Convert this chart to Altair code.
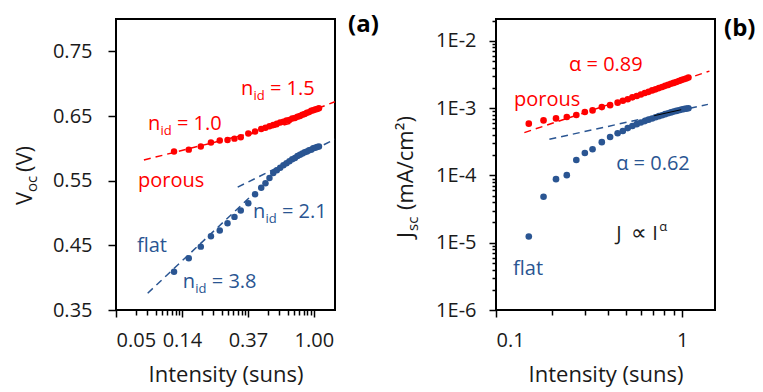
import math
import pandas as pd
import altair as alt

FONT = "Open Sans"
RED = "#FF0000"
BLUE = "#2A5592"
INK = "#1A1A1A"

# ---------------- data ----------------
# illumination intensities (suns)
intensity = [0.12, 0.15, 0.18, 0.21, 0.24, 0.27, 0.30, 0.33, 0.37, 0.41, 0.45,
             0.48, 0.51, 0.54, 0.57, 0.60, 0.63, 0.66, 0.69, 0.72, 0.75, 0.78,
             0.81, 0.84, 0.87, 0.90, 0.93, 0.96, 0.99, 1.02, 1.05, 1.08]

# open-circuit voltage (V)
voc_porous = [0.595, 0.598, 0.603, 0.609, 0.612, 0.613, 0.615, 0.617, 0.623, 0.626, 0.630,
              0.632, 0.634, 0.636, 0.638, 0.640, 0.641, 0.643, 0.644, 0.646, 0.647, 0.649,
              0.650, 0.652, 0.653, 0.655, 0.656, 0.658, 0.659, 0.660, 0.661, 0.662]
voc_flat = [0.409, 0.430, 0.448, 0.464, 0.473, 0.484, 0.494, 0.504, 0.515, 0.529, 0.539,
            0.546, 0.554, 0.562, 0.566, 0.570, 0.574, 0.577, 0.580, 0.583, 0.585, 0.588,
            0.590, 0.592, 0.594, 0.595, 0.597, 0.598, 0.600, 0.601, 0.602, 0.603]

# short-circuit current density (mA/cm2), measured from 0.15 suns upward
intensity_jsc = intensity[1:]
jsc_porous = [5.89e-4, 6.59e-4, 7.06e-4, 7.41e-4, 7.93e-4, 8.79e-4, 9.28e-4, 1.04e-3,
              1.11e-3, 1.21e-3, 1.29e-3, 1.36e-3, 1.45e-3, 1.52e-3, 1.60e-3, 1.68e-3,
              1.75e-3, 1.84e-3, 1.91e-3, 1.99e-3, 2.07e-3, 2.15e-3, 2.22e-3, 2.31e-3,
              2.38e-3, 2.45e-3, 2.54e-3, 2.62e-3, 2.69e-3, 2.76e-3, 2.85e-3]
jsc_flat = [1.24e-5, 4.83e-5, 8.81e-5, 1.01e-4, 1.70e-4, 2.16e-4, 2.45e-4, 3.13e-4,
            3.74e-4, 4.24e-4, 4.59e-4, 5.06e-4, 5.45e-4, 5.79e-4, 6.12e-4, 6.44e-4,
            6.76e-4, 7.04e-4, 7.33e-4, 7.61e-4, 7.87e-4, 8.15e-4, 8.40e-4, 8.66e-4,
            8.91e-4, 9.12e-4, 9.34e-4, 9.53e-4, 9.70e-4, 9.84e-4, 9.97e-4]

# fitted ideality / power-law lines: (name, start I, end I, start y, end y)
voc_fit_porous = [("n1.0", 0.076, 0.706, 0.582, 0.639),
                  ("n1.5", 0.385, 1.374, 0.622, 0.672)]
voc_fit_flat = [("n3.8", 0.0805, 0.385, 0.376, 0.526),
                ("n2.1", 0.315, 1.374, 0.540, 0.614)]
jsc_fit_porous = [("a0.89", 0.142, 1.40, 4.34e-4, 3.56e-3)]
jsc_fit_flat = [("a0.62", 0.1935, 1.374, 3.45e-4, 1.14e-3)]
jsc_fit_local = [("local", 0.707, 0.988, 7.74e-4, 9.50e-4)]

W, H = 219, 291


def fit_frame(rows):
    recs = []
    for name, x0, x1, y0, y1 in rows:
        recs.append({"I": x0, "v": y0, "g": name})
        recs.append({"I": x1, "v": y1, "g": name})
    return pd.DataFrame(recs)


# ---------------- panel (a): Voc ----------------
ln_major = [math.exp(k) for k in range(-3, 1)]
ln_minor = [math.exp(k + math.log10(m)) for k in range(-3, 0) for m in range(2, 10)]
is_ln_major = "abs(log(datum.value) - round(log(datum.value))) < 1e-6"

xa = alt.X("I:Q",
           scale=alt.Scale(type="log", domain=[math.exp(-3), math.exp(0.32)], nice=False),
           axis=alt.Axis(values=sorted(ln_major + ln_minor),
                         labelExpr=f"{is_ln_major} ? format(datum.value, '.2f') : ''",
                         tickSize={"condition": {"test": is_ln_major, "value": 7}, "value": 5},
                         labelPadding=13, title="Intensity (suns)", titleY=54,
                         titleBaseline="top"))
ya = alt.Y("v:Q",
           scale=alt.Scale(domain=[0.35, 0.80], nice=False, zero=False),
           axis=alt.Axis(values=[0.35, 0.45, 0.55, 0.65, 0.75], format=".2f",
                         tickSize=8, labelPadding=16, title=None))


def rich(df_xy, parts, color, xe, ye, angle=None):
    out = []
    for text, dx, dy, size, weight in parts:
        kw = dict(text=text, align="left", baseline="alphabetic", dx=dx, dy=dy,
                  fontSize=size, font=FONT, color=color, fontWeight=weight)
        if angle is not None:
            kw["angle"] = angle
        out.append(alt.Chart(df_xy).mark_text(**kw).encode(x=xe, y=ye))
    return out


def at(x, y):
    return pd.DataFrame({"I": [x], "v": [y]})


one = pd.DataFrame({"k": [0]})

a_layers = [
    alt.Chart(fit_frame(voc_fit_porous)).mark_line(strokeDash=[7, 5], strokeWidth=1.5, color=RED)
    .encode(x=xa, y=ya, detail="g:N"),
    alt.Chart(fit_frame(voc_fit_flat)).mark_line(strokeDash=[7, 5], strokeWidth=1.5, color=BLUE)
    .encode(x=xa, y=ya, detail="g:N"),
    alt.Chart(pd.DataFrame({"I": intensity, "v": voc_porous}))
    .mark_circle(size=42, opacity=1, color=RED).encode(x=xa, y=ya),
    alt.Chart(pd.DataFrame({"I": intensity, "v": voc_flat}))
    .mark_circle(size=42, opacity=1, color=BLUE).encode(x=xa, y=ya),
]
nid = lambda val: [("n", 0, 0, 20, "normal"), ("id", 12.5, 5, 13, "normal"),
                   ("= " + val, 29, 0, 20, "normal")]
a_layers += rich(at(0.331, 0.683), nid("1.5"), RED, xa, ya)
a_layers += rich(at(0.0808, 0.628), nid("1.0"), RED, xa, ya)
a_layers += rich(at(0.0695, 0.540), [("porous", 0, 0, 20, "normal")], RED, xa, ya)
a_layers += rich(at(0.0684, 0.439), [("flat", 0, 0, 20, "normal")], BLUE, xa, ya)
a_layers += rich(at(0.397, 0.493), nid("2.1"), BLUE, xa, ya)
a_layers += rich(at(0.137, 0.384), nid("3.8"), BLUE, xa, ya)
# rotated y-axis title with subscript
a_layers += rich(one, [("V", 0, 0, 22, "normal"), ("oc", 13, 5, 15, "normal"),
                       ("(V)", 33, 0, 22, "normal")], INK,
                 alt.value(-84), alt.value(186), angle=270)
a_layers += rich(one, [("(a)", 0, 0, 24, "bold")], "#000000", alt.value(232), alt.value(13))

panel_a = alt.layer(*a_layers).properties(width=W, height=H)

# ---------------- panel (b): Jsc ----------------
dec_major = [10.0 ** k for k in range(-6, -1)]
dec_minor = [m * 10.0 ** k for k in range(-6, -1) for m in range(2, 10)]
is_dec_major = "abs(log(datum.value)/LN10 - round(log(datum.value)/LN10)) < 1e-6"

xb = alt.X("I:Q",
           scale=alt.Scale(type="log", domain=[0.1, 1.5], nice=False),
           axis=alt.Axis(values=[0.1, 0.2, 0.3, 0.4, 0.5, 0.6, 0.7, 0.8, 0.9, 1.0],
                         labelExpr=f"{is_dec_major} ? format(datum.value, '~g') : ''",
                         tickSize={"condition": {"test": is_dec_major, "value": 7}, "value": 5},
                         labelPadding=13, title="Intensity (suns)", titleY=54,
                         titleBaseline="top"))
yb = alt.Y("v:Q",
           scale=alt.Scale(type="log", domain=[1e-6, 0.0212], nice=False),
           axis=alt.Axis(values=sorted(dec_major + dec_minor + [0.02]),
                         labelExpr=f"{is_dec_major} ? '1E' + round(log(datum.value)/LN10) : ''",
                         tickSize={"condition": {"test": is_dec_major, "value": 7}, "value": 4},
                         labelPadding=13, title=None))

b_layers = [
    alt.Chart(fit_frame(jsc_fit_porous)).mark_line(strokeDash=[7, 5], strokeWidth=1.5, color=RED)
    .encode(x=xb, y=yb, detail="g:N"),
    alt.Chart(fit_frame(jsc_fit_flat)).mark_line(strokeDash=[7, 5], strokeWidth=1.5, color=BLUE)
    .encode(x=xb, y=yb, detail="g:N"),
    alt.Chart(pd.DataFrame({"I": intensity_jsc, "v": jsc_porous}))
    .mark_circle(size=44, opacity=1, color=RED).encode(x=xb, y=yb),
    alt.Chart(pd.DataFrame({"I": intensity_jsc, "v": jsc_flat}))
    .mark_circle(size=44, opacity=1, color=BLUE).encode(x=xb, y=yb),
    alt.Chart(fit_frame(jsc_fit_local)).mark_line(strokeWidth=1, color="#000000")
    .encode(x=xb, y=yb, detail="g:N"),
]
b_layers += rich(at(0.247, 3.59e-3), [("α = 0.89", 0, 0, 20, "normal")], RED, xb, yb)
b_layers += rich(at(0.125, 1.09e-3), [("porous", 0, 0, 20, "normal")], RED, xb, yb)
b_layers += rich(at(0.442, 1.19e-4), [("α = 0.62", 0, 0, 20, "normal")], BLUE, xb, yb)
b_layers += rich(at(0.1235, 3.30e-6), [("flat", 0, 0, 20, "normal")], BLUE, xb, yb)
b_layers += rich(at(0.442, 1.09e-5), [("J", 0, 0, 20, "normal"),
                                      ("∝", 15, 0, 22, "normal"),
                                      ("I", 36, 0, 20, "normal"),
                                      ("α", 43, -9, 13, "normal")], INK, xb, yb)
b_layers += rich(one, [("J", 0, 0, 22, "normal"), ("sc", 7, 5, 15, "normal"),
                       ("(mA/cm²)", 28, 0, 22, "normal")], INK,
                 alt.value(-83), alt.value(219), angle=270)
b_layers += rich(one, [("(b)", 0, 0, 24, "bold")], "#000000", alt.value(228), alt.value(17))

panel_b = alt.layer(*b_layers).properties(width=W, height=H)

chart = (
    alt.hconcat(panel_a, panel_b, spacing=161, bounds="flush")
    .properties(padding={"left": 13, "top": 12, "right": 5, "bottom": 5}, background="white")
    .configure_view(stroke="#000000", strokeWidth=2)
    .configure_axis(domain=False, grid=False, tickColor="#000000", tickWidth=1.5,
                    labelFont=FONT, labelFontSize=20, labelColor=INK,
                    titleFont=FONT, titleFontSize=22, titleFontWeight="normal",
                    titleColor=INK)
)

chart.save("out.html", embed_options={"renderer": "svg", "actions": False})
